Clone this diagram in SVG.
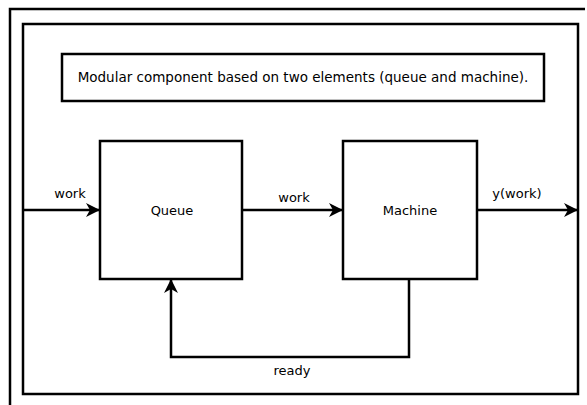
<svg xmlns="http://www.w3.org/2000/svg" width="587" height="405" viewBox="0 0 587 405">
<style>
.box{fill:#fff;stroke:#000;stroke-width:2.5}
.ln{fill:none;stroke:#000;stroke-width:2.5}
text{font-family:"DejaVu Sans",sans-serif;font-size:13px;fill:#000;text-anchor:middle}
.t{font-size:13.5px}
</style>
<defs>
<marker id="ah" viewBox="0 0 14 14" refX="13" refY="7" markerWidth="14" markerHeight="14" markerUnits="userSpaceOnUse" orient="auto">
<path d="M0,0 L14,7 L0,14 L4,7 Z" fill="#000"/>
</marker>
</defs>
<rect width="587" height="405" fill="#fff"/>
<g id="outer-frame"><path class="ln" d="M10,405 V9 H585"/></g>
<g id="inner-frame"><rect class="box" x="23" y="24" width="555" height="370"/></g>
<g id="title"><rect class="box" x="62" y="54" width="482" height="47"/><text class="t" x="303" y="82">Modular component based on two elements (queue and machine).</text></g>
<g id="queue"><rect class="box" x="100" y="141" width="142" height="138"/><text x="172" y="215">Queue</text></g>
<g id="machine"><rect class="box" x="343" y="141" width="134" height="138"/><text x="410" y="215">Machine</text></g>
<g id="connectors">
<path class="ln" d="M23,210 H99" marker-end="url(#ah)"/>
<path class="ln" d="M242,210 H342" marker-end="url(#ah)"/>
<path class="ln" d="M477,210 H577" marker-end="url(#ah)"/>
<path class="ln" d="M409,279 V357 H171 V280" marker-end="url(#ah)"/>
<text x="70" y="198">work</text>
<text x="294" y="202">work</text>
<text x="517" y="198">y(work)</text>
<text x="292" y="375">ready</text>
</g>
</svg>
